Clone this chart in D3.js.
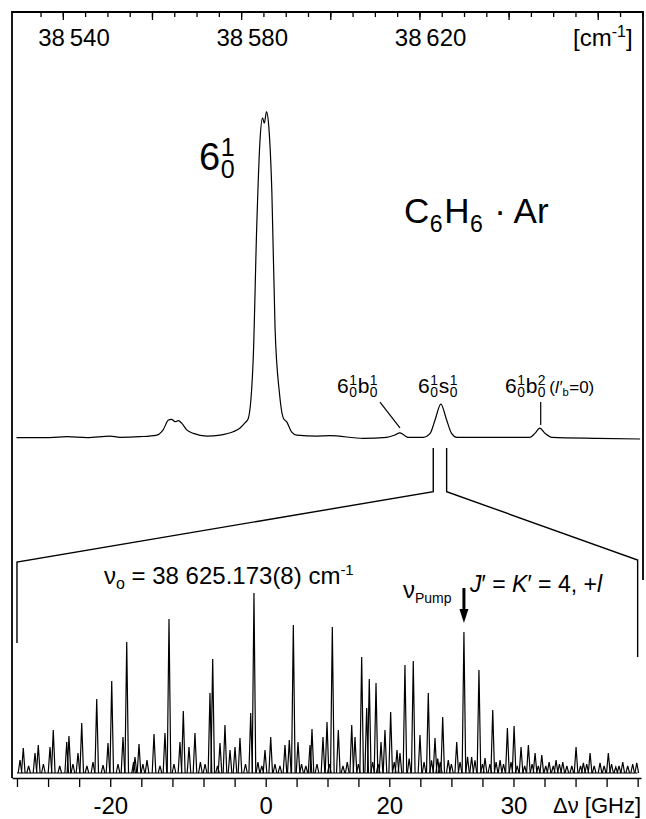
<!DOCTYPE html>
<html>
<head>
<meta charset="utf-8">
<script src="https://cdn.jsdelivr.net/npm/d3@7/dist/d3.min.js"></script>
<style>
  body { margin: 0; background: #fff; }
  text { font-family: "Liberation Sans", Arial, Helvetica, sans-serif; fill: #000; white-space: pre; }
  .tick line, .domain { stroke: #000; stroke-width: 1.3; }
</style>
</head>
<body>
<svg id="chart" width="646" height="819"></svg>
<script>
// survey scan (upper trace): wavenumber [cm-1] and relative intensity
const surveyWn = [38527.1, 38534.6, 38538.4, 38542.9, 38548.1, 38550.3, 38554.8, 38558.6, 38560.0, 38561.2,
  38561.9, 38562.7, 38563.4, 38564.2, 38565.3, 38566.8, 38569.8, 38572.8, 38575.7, 38577.2,
  38578.4, 38579.1, 38580.2, 38581.0, 38581.7, 38582.3, 38582.7, 38583.2, 38583.7, 38584.4,
  38585.1, 38586.1, 38587.0, 38587.7, 38588.8, 38590.0, 38594.5, 38597.4, 38604.9, 38610.2,
  38612.0, 38613.1, 38614.0, 38615.0, 38618.4, 38619.9, 38621.0, 38622.3, 38623.6, 38624.7,
  38625.9, 38631.1, 38642.3, 38643.4, 38644.5, 38645.7, 38647.2, 38657.3, 38667.0];
const surveyInt = [0.1, 0.1, 0.4, 0.1, 0.6, 0.2, 0.4, 0.9, 2.5, 5.5,
  5.7, 5.0, 5.3, 4.5, 2.5, 1.4, 0.6, 0.9, 1.9, 3.0,
  4.7, 6.0, 23.9, 64.8, 90.4, 98.1, 96.5, 100, 95.5, 75.1,
  34.1, 13.7, 6.0, 5.0, 1.9, 0.9, 0.6, 0.7, -0.1, 0.2,
  0.9, 1.6, 0.9, 0.2, 0.2, 1.4, 5.5, 10.4, 5.5, 1.4,
  0.2, 0.2, 0.2, 1.4, 3.0, 1.4, 0.2, -0.1, -0.3];

// axis labels
const wnLabels = [38540, 38580, 38620];
const ghzLabels = [-20, 0, 20, 30];
const ghzTicks = [-32, -28, -24, -20, -16, -12, -8, -4, 0, 5, 10, 15, 20,
  22.5, 25, 27.5, 30, 32.5, 35, 37.5, 40];

// rotationally resolved band (lower trace): line position [GHz] and intensity
const linePos = [-31.61, -31.19, -29.68, -29.26, -27.75, -27.33, -25.60, -25.31, -24.15, -23.67,
  -22.22, -21.74, -20.93, -20.29, -19.81, -18.36, -17.88, -16.82, -16.30, -15.27,
  -14.37, -12.96, -12.44, -11.03, -10.60, -9.87, -9.10, -7.17, -6.82, -5.88,
  -5.24, -4.59, -3.95, -3.31, -1.93, -1.51, -0.09, 0.81, 3.12, 3.82,
  4.47, 5.23, 7.17, 7.49, 9.27, 9.92, 10.78, 11.75, 13.92, 14.45,
  15.53, 16.34, 16.76, 17.85, 18.66, 19.30, 20.11, 20.62, 20.86, 21.26,
  21.93, 22.47, 23.14, 23.68, 24.30, 24.75, 25.43, 26.01, 26.63, 27.22,
  27.71, 28.33, 28.92, 29.51, 30.05, 30.61, 31.20, 31.74, 32.28, 32.87,
  33.43, 33.97, 35.04, 35.63, 36.17, 36.97, 37.64, 38.24, 38.80, 39.93];
const lineInt = [7.2, 13.9, 11.1, 15.6, 14.4, 23.9, 17.2, 20.6, 11.1, 27.8,
  6.1, 41.1, 4.4, 16.7, 51.1, 20, 72.8, 8.9, 16.1, 7.2,
  21.7, 22.2, 85.6, 17.2, 34.4, 14.4, 22.2, 44.4, 63.3, 16.7,
  26.7, 12.8, 14.4, 19.4, 33.3, 100, 12.8, 20, 15.6, 18.3,
  82.2, 17.2, 15.6, 24.4, 20, 28.3, 81.1, 23.9, 26.7, 20,
  64.4, 36.1, 52.2, 50, 17.2, 23.9, 33.9, 12.8, 11.1, 60,
  62.2, 21.1, 44.4, 19.4, 31.1, 7.2, 17.2, 78.3, 8.9, 57.2,
  8.3, 35, 7.2, 25, 26.1, 14.4, 15.6, 11.1, 10, 6.1,
  7.2, 6.1, 14.4, 5.6, 11.1, 5.6, 11.1, 3.3, 6.1, 5.6];
// weak lines on the baseline
const weakPos = [-30.5, -28.6, -26.5, -24.8, -23.0, -19.0, -17.0, -15.8, -13.6, -11.8,
  -8.4, -7.8, -6.2, -2.6, -1.0, -0.5, 1.5, 2.3, 5.8, 6.5,
  8.3, 10.3, 12.5, 13.2, 15.0, 17.3, 18.2, 20.4, 21.6, 22.8,
  23.4, 23.9, 24.1, 25.0, 25.7, 26.3, 26.9, 27.5, 28.1, 28.6,
  29.2, 29.8, 30.3, 30.9, 31.5, 32.0, 32.6, 33.2, 33.7, 34.3,
  34.7, 35.4, 35.9, 36.5, 37.3, 37.9, 38.5, 39.2, 39.6];
const weakInt = [4, 5, 4, 5, 4, 5, 6, 5, 4, 5,
  6, 5, 4, 5, 6, 4, 5, 4, 5, 4,
  5, 5, 4, 6, 5, 6, 5, 6, 8, 6,
  7, 8, 6, 5, 6, 9, 7, 5, 5, 6,
  5, 6, 4, 4, 5, 4, 4, 4, 5, 4,
  4, 4, 5, 4, 4, 5, 4, 4, 5];

const pumpLine = 26.01;              // GHz
const zoomWn = [38620.6, 38623.6];   // part of the survey that is expanded below

const svg = d3.select("#chart");

const xWn = d3.scaleLinear().domain([38526.1, 38667.65]).range([12, 643]);
const yUp = d3.scaleLinear().domain([0, 100]).range([438, 111.7]);
// the GHz axis of the original is not linear in its labels, so it is piecewise
const xGhz = d3.scaleLinear().domain([-32.64, 0, 20, 40.27]).range([12, 265.7, 389.3, 641]);
const yLow = d3.scaleLinear().domain([0, 100]).range([773, 593]);

// frame
svg.append("path")
  .attr("d", "M12,778V12H643V580")
  .attr("fill", "none").attr("stroke", "#000").attr("stroke-width", 1.8);

// top wavenumber axis, ticks pointing inwards
svg.append("g").attr("transform", "translate(0,12)")
  .call(d3.axisBottom(xWn).tickValues(d3.range(38532.5, 38670, 5)).tickSize(5).tickSizeOuter(0).tickFormat(""))
  .select(".domain").remove();
svg.append("g").attr("transform", "translate(0,12)")
  .call(d3.axisBottom(xWn).tickValues(d3.range(38537.5, 38670, 20)).tickSize(8).tickSizeOuter(0).tickFormat(""))
  .select(".domain").remove();

svg.selectAll(".wnlab").data(wnLabels).join("text")
  .attr("class", "wnlab")
  .attr("x", d => xWn(d)).attr("y", 46)
  .attr("text-anchor", "middle").attr("font-size", 24)
  .text(d => String(d).slice(0, 2) + "\u2009" + String(d).slice(2));

const unitTop = svg.append("text").attr("x", 573).attr("y", 46).attr("font-size", 24);
unitTop.append("tspan").text("[cm");
unitTop.append("tspan").attr("dy", -9).attr("font-size", 16).text("-1");
unitTop.append("tspan").attr("dy", 9).text("]");

// survey trace
const survey = surveyWn.map((w, i) => [w, surveyInt[i]]);
svg.append("path").datum(survey)
  .attr("fill", "none").attr("stroke", "#000").attr("stroke-width", 1.2)
  .attr("d", d3.line().x(d => xWn(d[0])).y(d => yUp(d[1])).curve(d3.curveMonotoneX));

// labels with stacked super/subscripts
function stackLabel(x, y, parts, size) {
  const small = size * 0.66;
  let cx = x;
  parts.forEach(p => {
    const t = svg.append("text").attr("x", cx).attr("y", y).attr("font-size", size).text(p.t);
    if (p.it) t.attr("font-style", "italic");
    cx += t.node().getComputedTextLength();
    let w = 0;
    if (p.sup != null) {
      const s = svg.append("text").attr("x", cx + 0.5).attr("y", y - size * (p.supDy || 0.36))
        .attr("font-size", small).text(p.sup);
      w = Math.max(w, s.node().getComputedTextLength());
    }
    if (p.sub != null) {
      const s = svg.append("text").attr("x", cx + 0.5).attr("y", y + size * (p.subDy || 0.2))
        .attr("font-size", small).text(p.sub);
      w = Math.max(w, s.node().getComputedTextLength());
    }
    if (w) cx += w + size * 0.06;
  });
  return cx;
}

stackLabel(199, 170, [{t: "6", sup: "1", sub: "0"}], 38);
stackLabel(404, 223, [{t: "C", sub: "6", subDy: 0.26}, {t: "H", sub: "6", subDy: 0.26}, {t: " \u00b7 Ar"}], 35);

stackLabel(337, 393, [{t: "6", sup: "1", sub: "0"}, {t: "b", sup: "1", sub: "0"}], 21);
stackLabel(418, 393, [{t: "6", sup: "1", sub: "0"}, {t: "s", sup: "1", sub: "0"}], 21);
const after = stackLabel(505, 393, [{t: "6", sup: "1", sub: "0"}, {t: "b", sup: "2", sub: "0"}], 21);
stackLabel(after + 3, 393, [{t: "("}, {t: "l\u2032", it: true, sub: "b"}, {t: "=0)"}], 17);

// leader lines to the weak bands
const lead = svg.append("g").attr("stroke", "#000").attr("stroke-width", 1.2);
lead.append("line")
  .attr("x1", xWn(38608.65)).attr("y1", yUp(11))
  .attr("x2", xWn(38613.13)).attr("y2", yUp(3.1));
lead.append("line")
  .attr("x1", xWn(38644.7)).attr("y1", yUp(11))
  .attr("x2", xWn(38644.7)).attr("y2", yUp(4));

// expansion bracket
const bx0 = xWn(zoomWn[0]), bx1 = xWn(zoomWn[1]);
const lx0 = xGhz(ghzTicks[0]), lx1 = xGhz(ghzTicks[ghzTicks.length - 1]);
const bracket = svg.append("g").attr("fill", "none").attr("stroke", "#000").attr("stroke-width", 1.4);
bracket.append("path").attr("d", `M${bx0},448V491.7L${lx0},562V643`);
bracket.append("path").attr("d", `M${bx1},448V491.7L${lx1},560V657`);

// lower axis
const bottom = svg.append("g").attr("transform", "translate(0,778)")
  .call(d3.axisBottom(xGhz).tickValues(ghzTicks).tickSize(9).tickSizeOuter(0).tickPadding(10)
    .tickFormat(d => ghzLabels.includes(d) ? String(d) : ""));
bottom.attr("font-size", 24);
bottom.select(".domain").attr("stroke-width", 1.8);

svg.append("text").attr("x", 553).attr("y", 813).attr("font-size", 22).text("\u0394\u03bd [GHz]");

// lower trace: baseline and lines
const low = svg.append("g").attr("fill", "none").attr("stroke", "#000").attr("stroke-width", 1.2);
low.append("path").datum([[ghzTicks[0], 0], [ghzTicks[ghzTicks.length - 1], 0]])
  .attr("d", d3.line().x(d => xGhz(d[0])).y(d => yLow(d[1])));
const lines = linePos.map((p, i) => [p, lineInt[i]])
  .concat(weakPos.map((p, i) => [p, weakInt[i]]));
low.selectAll(".ln").data(lines).join("path")
  .attr("class", "ln")
  .attr("d", d => {
    const x = xGhz(d[0]);
    return `M${x - 1.8},${yLow(0)}L${x},${yLow(d[1])}L${x + 1.8},${yLow(0)}`;
  });

// band origin label
const orig = svg.append("text").attr("x", 104).attr("y", 584).attr("font-size", 24);
orig.append("tspan").text("\u03bd");
orig.append("tspan").attr("dy", 5).attr("font-size", 16).text("o");
orig.append("tspan").attr("dy", -5).text(" = 38 625.173(8) cm");
orig.append("tspan").attr("dy", -9).attr("font-size", 15).text("-1");

// pump arrow
const xa = xGhz(pumpLine);
svg.append("line").attr("x1", xa).attr("x2", xa).attr("y1", 588).attr("y2", 611)
  .attr("stroke", "#000").attr("stroke-width", 3);
svg.append("path").attr("d", `M${xa - 4.5},609L${xa + 4.5},609L${xa},623Z`).attr("fill", "#000");

const pump = svg.append("text").attr("x", 403).attr("y", 598).attr("font-size", 24);
pump.append("tspan").text("\u03bd");
pump.append("tspan").attr("dy", 5).attr("font-size", 14).text("Pump");

const jk = svg.append("text").attr("x", 470).attr("y", 592).attr("font-size", 23);
jk.append("tspan").attr("font-style", "italic").text("J");
jk.append("tspan").text("\u2032 = ");
jk.append("tspan").attr("font-style", "italic").text("K");
jk.append("tspan").text("\u2032 = 4, +");
jk.append("tspan").attr("font-style", "italic").text("l");
</script>
</body>
</html>
